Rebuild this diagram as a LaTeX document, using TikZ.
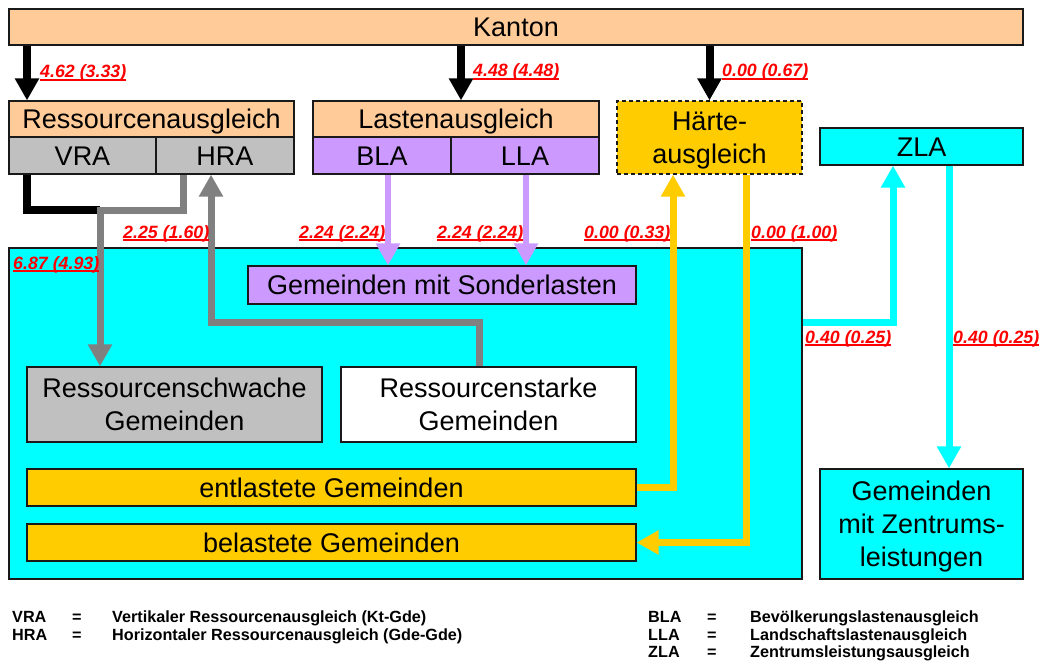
\documentclass[tikz,border=0pt]{standalone}
\usepackage{fontspec}
\setmainfont{Liberation Sans}
\usetikzlibrary{arrows.meta}
\definecolor{peach}{HTML}{FFCC99}
\definecolor{lgray}{HTML}{C0C0C0}
\definecolor{lilac}{HTML}{CC99FF}
\definecolor{gold}{HTML}{FFCC00}
\definecolor{aqua}{HTML}{00FFFF}
\definecolor{dgray}{HTML}{808080}
\definecolor{lred}{HTML}{FF0000}
\newcommand{\ulval}[1]{\setbox0=\hbox{#1}\rlap{\rule[-2.6pt]{\wd0}{1.3pt}}\box0}
\begin{document}
\begin{tikzpicture}[x=1pt,y=-1pt,
 box/.style={draw=black!90, line width=1.2pt, inner sep=0pt, font=\fontsize{27}{33}\selectfont, align=center},
 one/.style={text height=19.3pt, text depth=0pt},
 multi/.style={text depth=0pt},
 val/.style={anchor=base west, inner sep=0pt, text=lred, font=\fontsize{17.8}{20}\selectfont\bfseries\itshape},
 leg/.style={anchor=base west, inner sep=0pt, font=\fontsize{16.2}{18}\selectfont\bfseries},
 tip/.style={-{Triangle[width=23pt,length=22pt]}},
 bkarrow/.style={tip, line width=8pt, black},
 bkline/.style={line width=8pt, black},
 grarrow/.style={tip, line width=7pt, dgray},
 lilarrow/.style={tip, line width=6pt, lilac},
 goarrow/.style={tip, line width=7pt, gold},
 cyarrow/.style={tip, line width=7pt, aqua},
]
\fill[white] (0,0) rectangle (1040,663);
\useasboundingbox (0,0) rectangle (1040,663);

% boxes
\node[box, fill=peach, one, minimum width=1014pt, minimum height=36pt] (kanton) at (516,27) {Kanton};
\node[box, fill=peach, one, minimum width=285pt, minimum height=36pt] (ra) at (151.5,119) {Ressourcenausgleich};
\node[box, fill=lgray, one, minimum width=147pt, minimum height=37pt] (vra) at (82.5,155.5) {VRA};
\node[box, fill=lgray, one, minimum width=138pt, minimum height=37pt] (hra) at (225,155.5) {HRA};
\node[box, fill=peach, one, minimum width=286pt, minimum height=36pt] (la) at (456,119) {Lastenausgleich};
\node[box, fill=lilac, one, minimum width=138pt, minimum height=37pt] (bla) at (382,155.5) {BLA};
\node[box, fill=lilac, one, minimum width=148pt, minimum height=37pt] (lla) at (525,155.5) {LLA};
\node[box, fill=gold, multi, dashed, dash pattern=on 4pt off 3pt, minimum width=185pt, minimum height=73pt] (ha) at (709.5,137.5) {Härte-\\ausgleich};
\node[box, fill=aqua, one, minimum width=203pt, minimum height=37pt] (zla) at (921.5,146.5) {ZLA};

\node[box, fill=aqua, minimum width=793pt, minimum height=331pt] (gem) at (405.5,413.5) {};
\node[box, fill=lilac, one, minimum width=388pt, minimum height=38pt] (sl) at (442,285) {Gemeinden mit Sonderlasten};
\node[box, fill=lgray, multi, minimum width=295pt, minimum height=75pt] (rs) at (174.5,404.5) {Ressourcenschwache\\Gemeinden};
\node[box, fill=white, multi, minimum width=295pt, minimum height=75pt] (rst) at (488.5,404.5) {Ressourcenstarke\\Gemeinden};
\node[box, fill=gold, one, minimum width=609pt, minimum height=37pt] (ent) at (331.5,487.5) {entlastete Gemeinden};
\node[box, fill=gold, one, minimum width=609pt, minimum height=37pt] (bel) at (331.5,542.5) {belastete Gemeinden};
\node[box, fill=aqua, multi, minimum width=203pt, minimum height=110pt] (gz) at (921.5,524) {Gemeinden\\mit Zentrums-\\leistungen};

% helper coordinates
\coordinate (c1) at (27,0);
\coordinate (c2) at (461,0);
\coordinate (c3) at (183,0);
\coordinate (j1) at (100,210);
\coordinate (c4) at (479,0);
\coordinate (c5) at (211,322);
\coordinate (c6) at (388,0);
\coordinate (c7) at (526,0);
\coordinate (c8) at (673,0);
\coordinate (c9) at (746,0);
\coordinate (c10) at (893,322);
\coordinate (c11) at (949,0);

% connectors
\draw[bkarrow] (kanton.south -| c1) -- (ra.north -| c1);
\draw[bkarrow] (kanton.south -| c2) -- (la.north -| c2);
\draw[bkarrow] (kanton.south -| ha.north) -- (ha.north);
\draw[bkline] (vra.south -| c1) |- (j1);
\draw[grarrow] (hra.south -| c3) |- (j1) -- (rs.north -| j1);
\draw[grarrow] (rst.north -| c4) |- (c5) -- (hra.south -| c5);
\draw[lilarrow] (bla.south -| c6) -- (sl.north -| c6);
\draw[lilarrow] (lla.south -| c7) -- (sl.north -| c7);
\draw[goarrow] (ent.east) -| (ha.south -| c8);
\draw[goarrow] (ha.south -| c9) |- (bel.east);
\draw[cyarrow] (gem.east |- c10) -| (zla.south -| c10);
\draw[cyarrow] (zla.south -| c11) -- (gz.north -| c11);

% values
\node[val] (v1) at (40,78) {\ulval{4.62 (3.33)}};
\node[val] (v2) at (473,77) {\ulval{4.48 (4.48)}};
\node[val] (v3) at (722,77) {\ulval{0.00 (0.67)}};
\node[val] (v4) at (123,238) {\ulval{2.25 (1.60)}};
\node[val] (v5) at (299,238) {\ulval{2.24 (2.24)}};
\node[val] (v6) at (437,238) {\ulval{2.24 (2.24)}};
\node[val] (v7) at (584,238) {\ulval{0.00 (0.33)}};
\node[val] (v8) at (751,238) {\ulval{0.00 (1.00)}};
\node[val] (v9) at (13,269) {\ulval{6.87 (4.93)}};
\node[val] (v10) at (805,343) {\ulval{0.40 (0.25)}};
\node[val] (v11) at (953,343) {\ulval{0.40 (0.25)}};

% legend
\node[leg] (la1) at (12,622) {VRA};
\node[leg] (lb1) at (72,622) {=};
\node[leg] (lc1) at (112,622) {Vertikaler Ressourcenausgleich (Kt-Gde)};
\node[leg] (la2) at (12,640) {HRA};
\node[leg] (lb2) at (72,640) {=};
\node[leg] (lc2) at (112,640) {Horizontaler Ressourcenausgleich (Gde-Gde)};
\node[leg] (la3) at (648,622) {BLA};
\node[leg] (lb3) at (707,622) {=};
\node[leg] (lc3) at (750,622) {Bevölkerungslastenausgleich};
\node[leg] (la4) at (648,640) {LLA};
\node[leg] (lb4) at (707,640) {=};
\node[leg] (lc4) at (750,640) {Landschaftslastenausgleich};
\node[leg] (la5) at (648,657) {ZLA};
\node[leg] (lb5) at (707,657) {=};
\node[leg] (lc5) at (750,657) {Zentrumsleistungsausgleich};
\end{tikzpicture}
\end{document}
